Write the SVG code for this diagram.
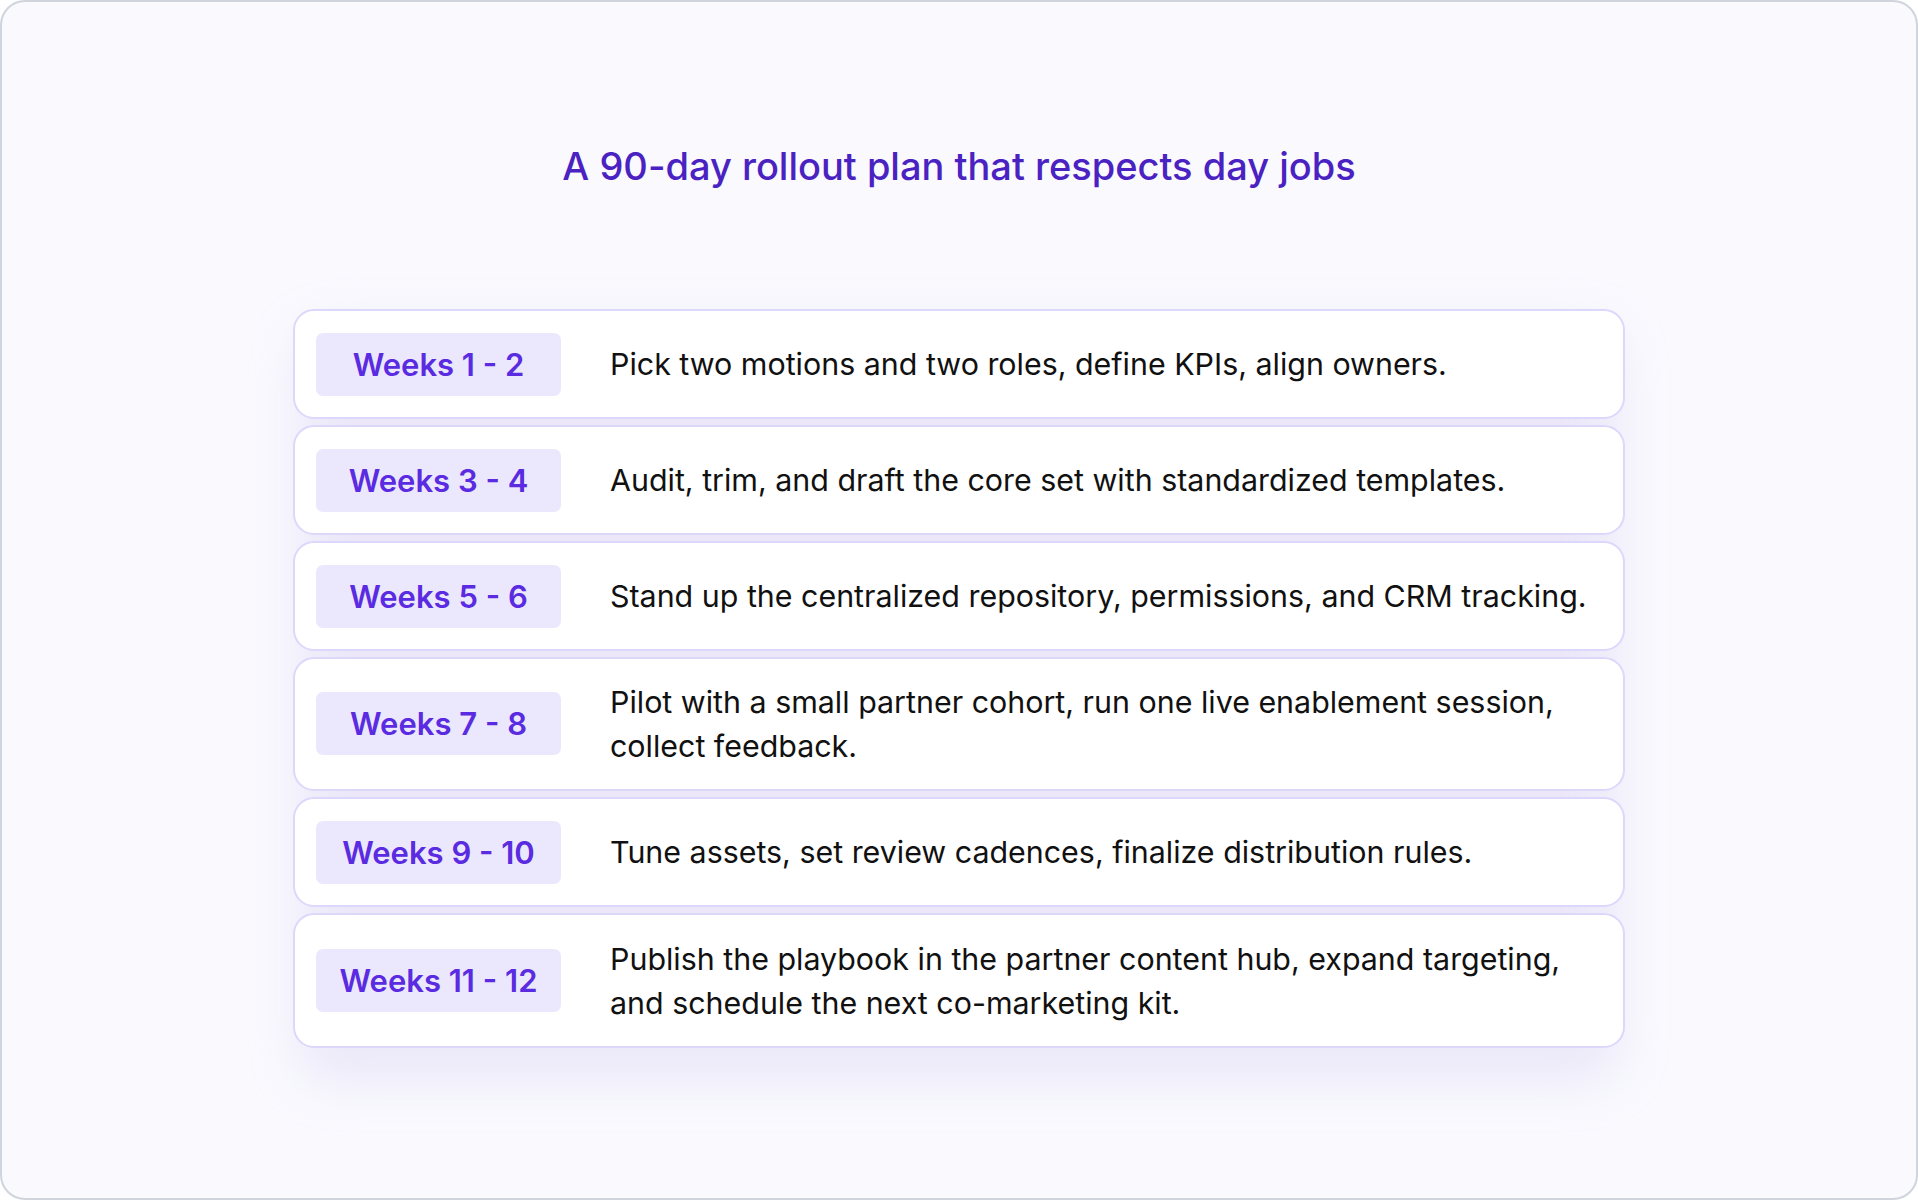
<svg xmlns="http://www.w3.org/2000/svg" width="1918" height="1200" viewBox="0 0 1918 1200">
  <style>
    .card { fill: #ffffff; stroke: #dcd8fb; stroke-width: 2; }
    .badge { fill: #ebe8fd; }
    .bt { font-family: Inter, "Liberation Sans", sans-serif; font-size: 31px; font-weight: 600; fill: #5a2be0; text-anchor: middle; }
    .dt { font-family: Inter, "Liberation Sans", sans-serif; font-size: 30.4px; font-weight: 400; fill: #111111; }
    .title { font-family: Inter, "Liberation Sans", sans-serif; font-size: 38px; font-weight: 500; fill: #4b22c2; text-anchor: middle; }
  </style>
  <defs>
    <filter id="glow" x="-20%" y="-20%" width="140%" height="150%">
      <feGaussianBlur stdDeviation="24"/>
    </filter>
  </defs>
  <rect x="1" y="1" width="1916" height="1198" rx="24" fill="#f9f9fe" stroke="#d0d4dc" stroke-width="2"/>
  <text class="title" x="959" y="180">A 90-day rollout plan that respects day jobs</text>
  <rect x="300" y="330" width="1318" height="750" rx="30" fill="#e2dcf5" opacity="0.6" filter="url(#glow)"/>
  <g id="connectors"/>
  <g id="row1">
    <rect class="card" x="294" y="310" width="1330" height="108" rx="20"/>
    <rect class="badge" x="316" y="333" width="245" height="63" rx="7"/>
    <text class="bt" x="438.5" y="376">Weeks 1 - 2</text>
    <text class="dt" x="610" y="375">Pick two motions and two roles, define KPIs, align owners.</text>
  </g>
  <g id="row2">
    <rect class="card" x="294" y="426" width="1330" height="108" rx="20"/>
    <rect class="badge" x="316" y="449" width="245" height="63" rx="7"/>
    <text class="bt" x="438.5" y="492">Weeks 3 - 4</text>
    <text class="dt" x="610" y="491">Audit, trim, and draft the core set with standardized templates.</text>
  </g>
  <g id="row3">
    <rect class="card" x="294" y="542" width="1330" height="108" rx="20"/>
    <rect class="badge" x="316" y="565" width="245" height="63" rx="7"/>
    <text class="bt" x="438.5" y="608">Weeks 5 - 6</text>
    <text class="dt" x="610" y="607">Stand up the centralized repository, permissions, and CRM tracking.</text>
  </g>
  <g id="row4">
    <rect class="card" x="294" y="658" width="1330" height="132" rx="20"/>
    <rect class="badge" x="316" y="692" width="245" height="63" rx="7"/>
    <text class="bt" x="438.5" y="735">Weeks 7 - 8</text>
    <text class="dt" x="610" y="713">Pilot with a small partner cohort, run one live enablement session,</text>
    <text class="dt" x="610" y="757">collect feedback.</text>
  </g>
  <g id="row5">
    <rect class="card" x="294" y="798" width="1330" height="108" rx="20"/>
    <rect class="badge" x="316" y="821" width="245" height="63" rx="7"/>
    <text class="bt" x="438.5" y="864">Weeks 9 - 10</text>
    <text class="dt" x="610" y="863">Tune assets, set review cadences, finalize distribution rules.</text>
  </g>
  <g id="row6">
    <rect class="card" x="294" y="914" width="1330" height="133" rx="20"/>
    <rect class="badge" x="316" y="949" width="245" height="63" rx="7"/>
    <text class="bt" x="438.5" y="992">Weeks 11 - 12</text>
    <text class="dt" x="610" y="970">Publish the playbook in the partner content hub, expand targeting,</text>
    <text class="dt" x="610" y="1014">and schedule the next co-marketing kit.</text>
  </g>
</svg>
